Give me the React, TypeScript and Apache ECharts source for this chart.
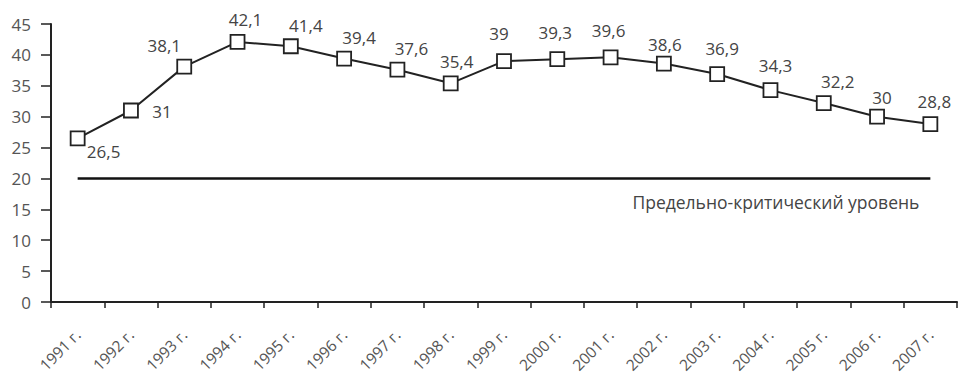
import React, { useEffect, useRef } from "react";
import * as echarts from "echarts";

const categories = ["1991 г.", "1992 г.", "1993 г.", "1994 г.", "1995 г.", "1996 г.", "1997 г.", "1998 г.", "1999 г.", "2000 г.", "2001 г.", "2002 г.", "2003 г.", "2004 г.", "2005 г.", "2006 г.", "2007 г."];
const values = [26.5, 31, 38.1, 42.1, 41.4, 39.4, 37.6, 35.4, 39, 39.3, 39.6, 38.6, 36.9, 34.3, 32.2, 30, 28.8];
const criticalLevel = 20;
const criticalLabel = "Предельно-критический уровень";
const yTicks = { min: 0, max: 45, interval: 5 };

// label placement tweaks (style only)
const labelOffsets: Array<[number, number]> = [
  [26, 35], [31, 22], [-20, 0], [8, -1], [15, 1], [15, 0], [14, 0], [6, 0],
  [-5, -6], [-2, -5], [-2, -5], [1, 2], [5, -4], [5, -3], [14, 0], [5, 2], [4, -1],
];

const FONT = "'Open Sans', 'Noto Sans', sans-serif";

export default function App() {
  const ref = useRef<HTMLDivElement>(null);
  useEffect(() => {
    if (!ref.current) return;
    const chart = echarts.init(ref.current, undefined, { renderer: "svg" });
    const fmt = (v: number) => String(v).replace(".", ",");
    chart.setOption({
      animation: false,
      backgroundColor: "#ffffff",
      grid: { left: 51, right: 4, top: 24, bottom: 79, containLabel: false, outerBoundsMode: "none" },
      xAxis: {
        type: "category",
        data: categories,
        boundaryGap: true,
        axisLine: { lineStyle: { color: "#222", width: 2 } },
        axisTick: { show: true, interval: 0, length: 6, lineStyle: { color: "#222", width: 1.5 } },
        axisLabel: {
          interval: 0,
          rotate: 45,
          color: "#555",
          fontSize: 15.5,
          fontFamily: FONT,
          margin: 30,
        },
        splitLine: { show: false },
      },
      yAxis: {
        type: "value",
        min: yTicks.min,
        max: yTicks.max,
        interval: yTicks.interval,
        axisLine: { show: true, lineStyle: { color: "#222", width: 2 } },
        axisTick: { show: true, length: 10, lineStyle: { color: "#222", width: 1.5 } },
        axisLabel: { color: "#555", fontSize: 17, fontFamily: FONT, margin: 20 },
        splitLine: { show: false },
      },
      series: [
        {
          type: "line",
          data: values.map((v, i) => ({
            value: v,
            label: { offset: labelOffsets[i] },
          })),
          symbol: "rect",
          symbolSize: 14,
          itemStyle: { color: "#fff", borderColor: "#222", borderWidth: 1.8 },
          lineStyle: { color: "#222", width: 2 },
          label: {
            show: true,
            position: "top",
            distance: 5,
            color: "#444",
            fontSize: 17,
            fontFamily: FONT,
            formatter: (p: any) => fmt(p.value),
          },
          z: 3,
          markLine: {
            silent: true,
            symbol: ["none", "none"],
            lineStyle: { color: "#111", width: 2.5, type: "solid" },
            label: {
              show: true,
              position: "insideEndBottom",
              formatter: criticalLabel,
              color: "#444",
              fontSize: 17.5,
              fontFamily: FONT,
              distance: [11, 15],
            },
            data: [
              [
                { coord: [categories[0], criticalLevel] },
                { coord: [categories[categories.length - 1], criticalLevel] },
              ],
            ],
          },
        },
      ],
    });
    return () => chart.dispose();
  }, []);
  return <div ref={ref} style={{ width: 961, height: 381, position: "absolute", left: 0, top: 0 }} />;
}
